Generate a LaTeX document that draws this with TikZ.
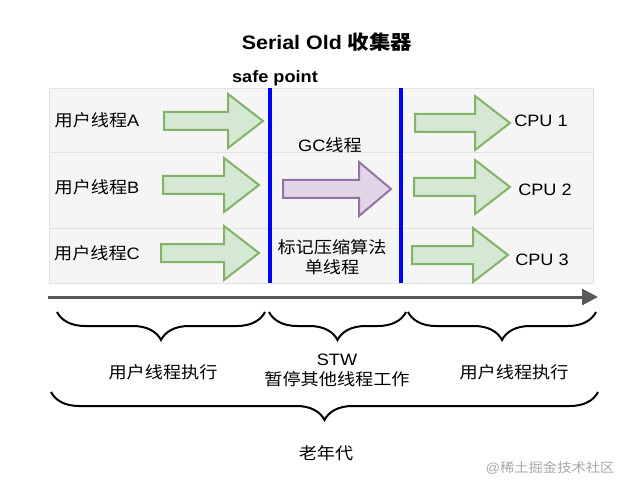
\documentclass[tikz,border=0pt]{standalone}
\usepackage{fontspec}
\setmainfont[FakeStretch=1.1]{Liberation Sans}
\newfontfamily\cjk[FakeStretch=1.1]{Noto Sans CJK SC}
\usetikzlibrary{arrows.meta,decorations.pathreplacing}
\definecolor{gfill}{HTML}{D5E8D4}
\definecolor{gline}{HTML}{82B366}
\definecolor{pfill}{HTML}{E1D5E7}
\definecolor{pline}{HTML}{9673A6}
\definecolor{panel}{HTML}{F5F5F5}
\definecolor{rowline}{HTML}{E2E2E2}
\definecolor{axis}{HTML}{595959}
\tikzset{
  lbl/.style={font=\fontsize{16.5}{20}\selectfont},
  ttl/.style={font=\fontsize{19.5}{22}\selectfont\bfseries},
  garr/.style={fill=gfill,draw=gline,line width=2pt,line join=miter},
  parr/.style={fill=pfill,draw=pline,line width=2pt,line join=miter},
  sp/.style={blue,line width=4pt},
  brc/.style={decorate,decoration={brace,mirror,amplitude=28pt},line width=2pt}
}
% block arrow: x start, x end, y centre, head start, style
\newcommand{\blockarr}[5]{%
  \draw[#5] (#1,#3-9) -- (#4,#3-9) -- (#4,#3-27) -- (#2,#3) -- (#4,#3+27)
    -- (#4,#3+9) -- (#1,#3+9) -- cycle;}
\begin{document}
\begin{tikzpicture}[x=1pt,y=-1pt]
\useasboundingbox (0,0) rectangle (621,489);

\node[ttl] (title) at (327,42) {Serial Old {\cjk 收集器}};
\node[ttl,font=\fontsize{16.5}{20}\selectfont\bfseries] (safept) at (275,78) {safe point};

\fill[panel,draw=rowline] (49,88) rectangle (593,283);
\draw[rowline] (49,152) -- (593,152);
\draw[rowline] (49,228) -- (593,228);

\blockarr{164}{263}{121}{228}{garr}
\blockarr{163}{259}{185}{224}{garr}
\blockarr{161}{259}{253}{224}{garr}
\blockarr{415}{510}{123}{475}{garr}
\blockarr{414}{510}{187}{475}{garr}
\blockarr{412}{508}{255}{473}{garr}
\blockarr{283}{391}{189}{359}{parr}

\coordinate (sp1t) at (270,88);
\coordinate (sp1b) at (270,283);
\coordinate (sp2t) at (401,88);
\coordinate (sp2b) at (401,283);
\draw[sp] (sp1t) -- (sp1b);
\draw[sp] (sp2t) -- (sp2b);

\node[lbl] (thrA) at (97,120) {{\cjk 用户线程}A};
\node[lbl] (thrB) at (97,187) {{\cjk 用户线程}B};
\node[lbl] (thrC) at (97,253) {{\cjk 用户线程}C};
\node[lbl] (cpu1) at (541,121) {CPU 1};
\node[lbl] (cpu2) at (545,190) {CPU 2};
\node[lbl] (cpu3) at (542,260) {CPU 3};
\node[lbl] (gc) at (330,145) {GC{\cjk 线程}};
\node[lbl,align=center] (mark) at (332,257) {\cjk 标记压缩算法\\\cjk 单线程};

\coordinate (t0) at (48,297);
\coordinate (t1) at (598,297);
\draw[axis,line width=3pt,-{Triangle[length=16pt,width=16pt]}] (t0) -- (t1);

\coordinate (b1s) at (57,312);
\coordinate (b1e) at (265,312);
\coordinate (b2s) at (269,312);
\coordinate (b2e) at (406,312);
\coordinate (b3s) at (408,312);
\coordinate (b3e) at (596,312);
\coordinate (b4s) at (51,392);
\coordinate (b4e) at (598,392);
\draw[brc] (b1s) -- (b1e);
\draw[brc] (b2s) -- (b2e);
\draw[brc] (b3s) -- (b3e);
\draw[brc] (b4s) -- (b4e);

\node[lbl] (run1) at (163,372) {\cjk 用户线程执行};
\node[lbl,align=center] (stw) at (337,370) {STW\\\cjk 暂停其他线程工作};
\node[lbl] (run2) at (514,372) {\cjk 用户线程执行};
\node[lbl] (old) at (326,453) {\cjk 老年代};
\node[font=\fontsize{13}{15}\selectfont,text=black!35] (wm) at (550,468) {@{\cjk 稀土掘金技术社区}};
\end{tikzpicture}
\end{document}
